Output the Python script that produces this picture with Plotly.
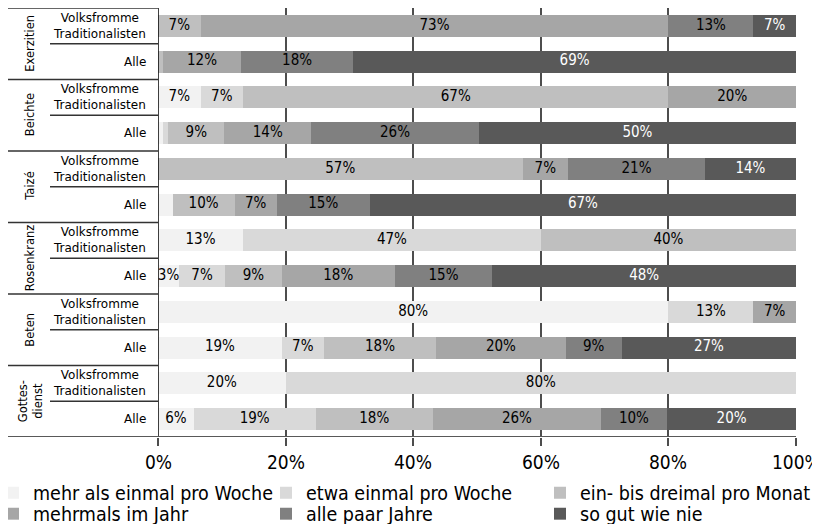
import plotly.graph_objects as go

COND = "DejaVu Sans Condensed, DejaVu Sans, sans-serif"
WIDE = "DejaVu Sans, Verdana, sans-serif"

# rows: each group has "Volksfromme Traditionalisten" and "Alle"
groups = ["Exerzitien", "Beichte", "Taizé", "Rosenkranz", "Beten", "Gottes-<br>dienst"]
subgroups = ["Volksfromme<br>Traditionalisten", "Alle"]

answers = [
    "mehr als einmal pro Woche",
    "etwa einmal pro Woche",
    "ein- bis dreimal pro Monat",
    "mehrmals im Jahr",
    "alle paar Jahre",
    "so gut wie nie",
]

# shares in %, one value per row (top to bottom)
mehr_als_einmal_pro_woche = [0, 0, 6.67, 0.8, 0, 2.3, 13.33, 3.3, 80, 19.4, 20, 5.6]
etwa_einmal_pro_woche = [0, 0, 6.67, 0.8, 0, 0, 46.67, 7.2, 13.33, 6.6, 80, 19.1]
ein_bis_dreimal_pro_monat = [6.67, 0.8, 66.67, 8.8, 57.14, 9.7, 40, 8.9, 0, 17.6, 0, 18.4]
mehrmals_im_jahr = [73.33, 12.2, 20, 13.6, 7.14, 6.6, 0, 17.7, 6.67, 20.3, 0, 26.3]
alle_paar_jahre = [13.33, 17.6, 0, 26.3, 21.43, 14.6, 0, 15.3, 0, 8.8, 0, 10.4]
so_gut_wie_nie = [6.67, 69.4, 0, 49.7, 14.29, 66.8, 0, 47.6, 0, 27.3, 0, 20.2]

x_ticks = [0, 20, 40, 60, 80, 100]
x_ticktext = ["0%", "20%", "40%", "60%", "80%", "100%"]

series = [mehr_als_einmal_pro_woche, etwa_einmal_pro_woche, ein_bis_dreimal_pro_monat,
          mehrmals_im_jahr, alle_paar_jahre, so_gut_wie_nie]
colors = ["#f2f2f2", "#d9d9d9", "#bfbfbf", "#a6a6a6", "#808080", "#595959"]

rows = list(range(len(groups) * len(subgroups)))

W, H = 812, 516  # page body adds 8px offset
L_MARGIN, R_MARGIN, B_MARGIN = 150, 24, 87
plot_w = W - L_MARGIN - R_MARGIN
plot_h = H - B_MARGIN

fig = go.Figure()

legend_names = ["legend", "legend2", "legend3", "legend4", "legend5", "legend6"]
for i, (name, vals, col) in enumerate(zip(answers, series, colors)):
    fig.add_trace(go.Bar(
        y=rows, x=vals, name=name, orientation="h",
        marker=dict(color=col, line=dict(width=0)),
        legend=legend_names[i],
        hoverinfo="skip",
    ))

# value labels centred in each segment
lab_x, lab_y, lab_t, lab_c = [], [], [], []
for i, vals in enumerate(series):
    for r, v in enumerate(vals):
        if v < 2.5:
            continue
        start = sum(series[k][r] for k in range(i))
        lab_x.append(start + v / 2)
        lab_y.append(r)
        lab_t.append(f"{v:.0f}%")
        lab_c.append("white" if i == 5 else "black")

fig.add_trace(go.Scatter(
    x=lab_x, y=lab_y, text=lab_t, mode="text",
    textfont=dict(family=COND, size=15, color=lab_c),
    showlegend=False, cliponaxis=False, hoverinfo="skip",
))

# legend: 3 columns x 2 rows, one small legend per entry
col_left = [-15, 258, 532]   # px from figure left
row_mid = [485, 506]         # px from figure top
legends = {}
for i, lname in enumerate(legend_names):
    legends[lname] = dict(
        xref="paper", yref="container",
        x=(col_left[i % 3] - L_MARGIN) / plot_w, xanchor="left",
        y=1 - row_mid[i // 3] / H, yanchor="middle",
        font=dict(family=COND, size=19.5, color="black"),
        bgcolor="rgba(0,0,0,0)", itemclick=False, borderwidth=0,
    )

fig.update_layout(
    width=W, height=H,
    margin=dict(l=L_MARGIN, r=R_MARGIN, t=0, b=B_MARGIN, autoexpand=False),
    barmode="stack", bargap=0.38,
    plot_bgcolor="white", paper_bgcolor="white",
    font=dict(family=WIDE, size=12, color="black"),
    **legends,
)

fig.update_xaxes(
    range=[0, 100], tickvals=x_ticks, showticklabels=False,
    showgrid=True, gridcolor="#4d4d4d", gridwidth=1.5,
    ticks="outside", ticklen=8, tickcolor="#4d4d4d", tickwidth=1.5,
    zeroline=False, showline=False,
)
fig.update_yaxes(range=[len(rows) - 0.5, -0.5], showticklabels=False,
                 showgrid=False, zeroline=False, showline=False)

# x tick labels
for v, t in zip(x_ticks, x_ticktext):
    fig.add_annotation(text=t, xref="x", yref="paper", x=v, y=-25 / plot_h,
                       xanchor="center", yanchor="middle", showarrow=False,
                       font=dict(family=COND, size=19, color="black"))

left_px = L_MARGIN / plot_w
sub_px = 108 / plot_w

# axis line at 0 %
fig.add_shape(type="line", xref="x", yref="paper", x0=0, x1=0, y0=0, y1=1,
              line=dict(color="black", width=1.5))
# group separators
for b in range(-1, len(rows) - 1, 2):
    fig.add_shape(type="line", xref="paper", yref="y", x0=-left_px, x1=0,
                  y0=b + 0.5, y1=b + 0.5, line=dict(color="#333333", width=1.5))
# bottom line
fig.add_shape(type="line", xref="paper", yref="y", x0=-left_px, x1=1,
              y0=len(rows) - 0.5, y1=len(rows) - 0.5, line=dict(color="#595959", width=2))
# sub-row separators
for b in range(0, len(rows), 2):
    fig.add_shape(type="line", xref="paper", yref="y", x0=-sub_px, x1=0,
                  y0=b + 0.5, y1=b + 0.5, line=dict(color="#333333", width=1.5))

for r in rows:
    fig.add_annotation(text=subgroups[r % 2], xref="paper", yref="y", x=0, y=r,
                       xanchor="right", xshift=-10, align="center", showarrow=False,
                       font=dict(family=WIDE, size=12, color="black"))

for g, name in enumerate(groups):
    fig.add_annotation(text=name, xref="paper", yref="y", x=-128 / plot_w, y=2 * g + 0.5,
                       xanchor="center", yanchor="middle",
                       textangle=-90, align="center", showarrow=False,
                       font=dict(family=WIDE, size=11.5, color="black"))

fig.write_html("out.html")
